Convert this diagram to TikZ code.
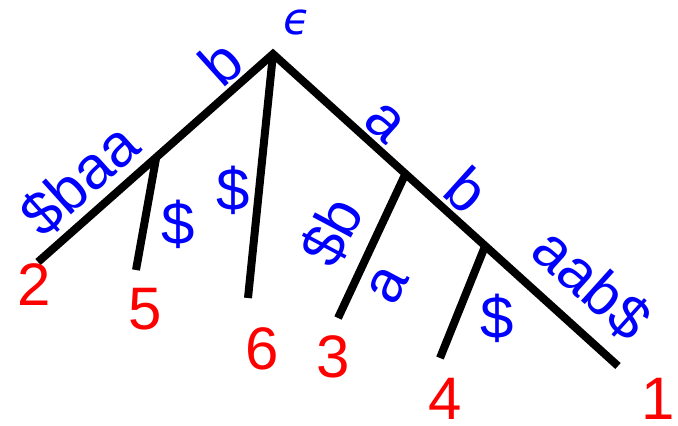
\documentclass[tikz,border=0pt]{standalone}
\usepackage{fontspec}
\setmainfont{Liberation Sans}
\newfontfamily\dvsans{DejaVu Sans}
\usetikzlibrary{calc}
\begin{document}
\begin{tikzpicture}[x=1pt,y=-1pt,
  edge/.style={line width=8pt,line join=miter},
  elabel/.style={text=blue,inner sep=0pt,font=\fontsize{60}{60}\selectfont},
  leaf/.style={text=red,inner sep=0pt,font=\fontsize{60}{60}\selectfont}]
\useasboundingbox (0,0) rectangle (678,426);
\coordinate (root) at (273,54);
\coordinate (l2) at (38,262);
\coordinate (l1) at (618,366);
\coordinate (n1) at ($(root)!0.497!(l2)$);
\coordinate (n2) at ($(root)!0.384!(l1)$);
\coordinate (n3) at ($(root)!0.615!(l1)$);
\coordinate (l5) at (136,270);
\coordinate (l6) at (248,298);
\coordinate (l3) at (338,318);
\coordinate (l4) at (440,358);
\draw[edge] (l2) -- (root) -- (l1);
\draw[edge] (n1) -- (l5);
\draw[edge] (root) -- (l6);
\draw[edge] (n2) -- (l3);
\draw[edge] (n3) -- (l4);
% edge labels
\node[text=blue,inner sep=0pt,font=\dvsans\itshape\fontsize{44}{44}\selectfont] (eps) at (297,22) {ϵ};
\node[elabel,rotate=42] (lb) at (221,62) {b};
\node[elabel,rotate=42] (lsbaa) at (80,180) {\$baa};
\node[elabel] (ld5) at (178,224) {\$};
\node[elabel] (ld6) at (233,190) {\$};
\node[elabel,rotate=-42] (la) at (385,123) {a};
\node[elabel,rotate=-42] (lb2) at (467,190) {b};
\node[elabel,rotate=-42] (laab) at (592,284) {aab\$};
\node[elabel,rotate=62] (lsb) at (332,232) {\$b};
\node[elabel,rotate=62] (la3) at (388,285) {a};
\node[elabel] (ld4) at (497,318) {\$};
% leaf labels
\node[leaf] (t2) at (34,285) {2};
\node[leaf] (t5) at (145,309) {5};
\node[leaf] (t6) at (262,349) {6};
\node[leaf] (t3) at (333,357) {3};
\node[leaf] (t4) at (445,399) {4};
\node[leaf] (t1) at (658,399) {1};
\end{tikzpicture}
\end{document}
